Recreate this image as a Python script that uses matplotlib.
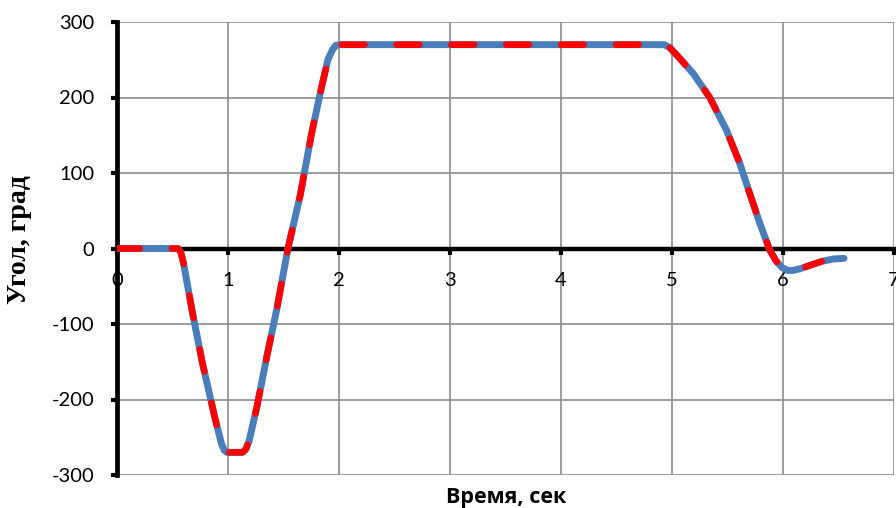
import matplotlib
matplotlib.use("Agg")
import matplotlib.pyplot as plt

plt.rcParams["axes.unicode_minus"] = False

# Series 1 (blue, solid)
t_blue = [0.0, 0.30, 0.55, 0.575, 0.60, 0.68, 0.77, 0.88, 0.94, 0.965, 0.99, 1.05, 1.13, 1.16,
          1.19, 1.26, 1.35, 1.44, 1.54, 1.65, 1.75, 1.84, 1.90, 1.94, 1.97, 2.01, 2.5, 3.0, 3.5,
          4.0, 4.5, 4.93, 4.98, 5.05, 5.19, 5.34, 5.49, 5.61, 5.70, 5.79, 5.88, 5.94, 5.99,
          6.04, 6.09, 6.15, 6.25, 6.35, 6.45, 6.55]
y_blue = [0, 0, 0, -5, -20, -85, -152, -223, -258, -267, -270, -270, -270, -266,
          -255, -210, -143, -80, 0, 70, 150, 212, 250, 263, 269, 270, 270, 270, 270,
          270, 270, 270, 266, 255, 232, 200, 157, 113, 73, 34, -2, -17, -25,
          -29, -29, -27, -22, -17, -14, -13]

# Series 2 (red, dashed)
t_red = [0.0, 0.30, 0.55, 0.575, 0.60, 0.68, 0.77, 0.88, 0.94, 0.965, 0.99, 1.05, 1.13, 1.16,
         1.19, 1.26, 1.35, 1.44, 1.54, 1.65, 1.75, 1.84, 1.90, 1.94, 1.97, 2.01, 2.5, 3.0, 3.5,
         4.0, 4.5, 4.93, 4.98, 5.05, 5.19, 5.34, 5.49, 5.61, 5.70, 5.79, 5.88, 5.94, 5.99,
         6.04, 6.09, 6.15, 6.25, 6.35]
y_red = [0, 0, 0, -5, -20, -85, -152, -223, -258, -267, -270, -270, -270, -266,
         -255, -210, -143, -80, 0, 70, 150, 212, 250, 263, 269, 270, 270, 270, 270,
         270, 270, 270, 266, 255, 232, 200, 157, 113, 73, 34, -2, -17, -25,
         -29, -29, -27, -22, -17]

x_ticks = [0, 1, 2, 3, 4, 5, 6, 7]
y_ticks = [-300, -200, -100, 0, 100, 200, 300]
x_label = "Время, сек"
y_label = "Угол, град"

fig = plt.figure(figsize=(8.96, 5.08), dpi=100)
ax = fig.add_axes([117/896, 1-475/508, (894-117)/896, (475-22)/508])

ax.plot(t_blue, y_blue, color="#4A7EBB", lw=5.0, solid_capstyle="round",
        solid_joinstyle="round", zorder=3)
ax.plot(t_red, y_red, color="#FF0000", lw=4.7, dashes=(3.5, 4.9),
        dash_capstyle="round", dash_joinstyle="round", zorder=4)

ax.set_xlim(0, 7)
ax.set_ylim(-300, 300)
ax.set_xticks(x_ticks)
ax.set_yticks(y_ticks)

ax.grid(True, color="#8C8C8C", lw=1.2, zorder=0)
ax.set_axisbelow(True)

for s in ["top", "right"]:
    ax.spines[s].set_visible(False)
ax.spines["bottom"].set_position(("data", 0))
ax.spines["bottom"].set_linewidth(3.2)
ax.spines["left"].set_linewidth(3.4)
ax.spines["bottom"].set_zorder(2.5)
ax.spines["left"].set_zorder(2.5)

ax.tick_params(axis="y", direction="out", length=4.5, width=3, pad=12)
ax.tick_params(axis="x", direction="out", length=4, width=3, pad=13)
for lbl in ax.get_xticklabels() + ax.get_yticklabels():
    lbl.set_fontfamily("Lato")
    lbl.set_fontsize(14.5)

fig.text(506/896, 1-497/508, x_label, ha="center", va="center",
         fontsize=15.5, fontweight="bold", family="Open Sans")
fig.text(20/896, 1-240/508, y_label, ha="center", va="center", rotation=90,
         fontsize=20, fontweight="bold", family="Liberation Serif")

fig.savefig("out.png", dpi=100)
